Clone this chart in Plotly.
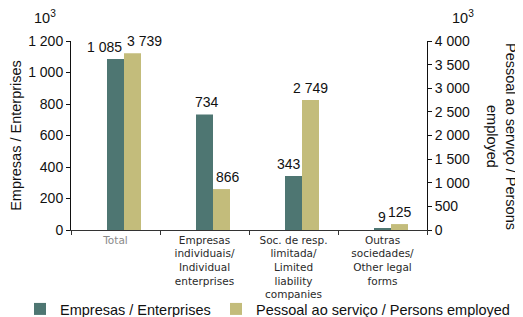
import plotly.graph_objects as go

categories = ["Total", "Empresas individuais", "Soc. de resp. limitada", "Outras sociedades"]
tick_labels = [
    "<span style='color:#8a8a8a'>Total</span>",
    "Empresas<br>individuais/<br>Individual<br>enterprises",
    "Soc. de resp.<br>limitada/<br>Limited<br>liability<br>companies",
    "Outras<br>sociedades/<br>Other legal<br>forms",
]
enterprises = [1085, 734, 343, 9]
persons = [3739, 866, 2749, 125]

TEAL = "#4E7672"
OLIVE = "#C3BC7B"
FONT = "Liberation Sans, Arial, sans-serif"

# style: label horizontal nudges (px)
ent_shift = [-11, 2, -5, -1]
per_shift = [12, 6, 0, 0]

def fmt(v):
    return f"{v:,}".replace(",", " ")

# page body has an 8px margin: figure is drawn at (8, 8) in the 523x317 window
OFF = 8
W, H = 523 - OFF, 317 - OFF
# plot area in window pixels: x 71..427, y 41..230
L, T = 71 - OFF, 41 - OFF
R, B = 523 - 427, 317 - 230
pw, ph = W - L - R, H - T - B

fig = go.Figure()
fig.add_trace(go.Bar(
    x=categories, y=enterprises, name="Empresas / Enterprises",
    marker=dict(color=TEAL, line=dict(width=0)),
    width=0.191, offset=-0.0955, yaxis="y", legend="legend",
))
fig.add_trace(go.Bar(
    x=categories, y=persons, name="Pessoal ao serviço / Persons employed",
    marker=dict(color=OLIVE, line=dict(width=0)),
    width=0.191, offset=0.0955, yaxis="y2", legend="legend2",
))

ann = []
for i, c in enumerate(categories):
    ann.append(dict(x=c, y=enterprises[i], xref="x", yref="y", text=fmt(enterprises[i]),
                    showarrow=False, yanchor="bottom", xshift=ent_shift[i], yshift=2,
                    font=dict(size=14, color="#111", family=FONT)))
    ann.append(dict(x=c, y=persons[i], xref="x", yref="y2", text=fmt(persons[i]),
                    showarrow=False, yanchor="bottom", xshift=per_shift[i] + 17, yshift=2,
                    font=dict(size=14, color="#111", family=FONT)))

def paper(wx, wy):
    return (wx - OFF - L) / pw, (H - B - (wy - OFF)) / ph

for (x, y, t, ang) in [(45, 17, "10<sup>3</sup>", 0), (463, 17, "10<sup>3</sup>", 0),
                       (502, 136, "Pessoal ao serviço / Persons<br>employed", 90)]:
    ax, ay = paper(x, y)
    ann.append(dict(x=ax, y=ay, xref="paper", yref="paper", text=t, textangle=ang,
                    xanchor="center", yanchor="middle",
                    showarrow=False, font=dict(size=14.5, color="#111", family=FONT)))

def cont(wx, wy):
    return (wx - OFF) / W, 1 - (wy - OFF) / H

l1x, l1y = cont(20, 309)
l2x, l2y = cont(216, 309)
leg_common = dict(orientation="h", xref="container", yref="container",
                  xanchor="left", yanchor="middle", itemwidth=30,
                  font=dict(size=14.5, color="#111", family=FONT),
                  bgcolor="rgba(0,0,0,0)")

fig.update_layout(
    width=W, height=H,
    margin=dict(l=L, r=R, t=T, b=B, pad=0, autoexpand=False),
    paper_bgcolor="white", plot_bgcolor="white",
    separators=", ",
    barmode="overlay",
    font=dict(family=FONT, size=14, color="#111"),
    showlegend=True,
    legend=dict(x=l1x, y=l1y, **leg_common),
    legend2=dict(x=l2x, y=l2y, **leg_common),
    xaxis=dict(
        type="category", tickvals=categories, ticktext=tick_labels,
        range=[-0.5, 3.5], showline=True, linecolor="#333", linewidth=1,
        ticks="outside", tickson="boundaries", ticklen=4, tickcolor="#333",
        tickfont=dict(size=10.5, color="#2a2a2a", family="DejaVu Sans"),
        showgrid=False, zeroline=False, automargin=False,
    ),
    yaxis=dict(
        range=[0, 1200], dtick=200, tickformat=",d", showline=True, linecolor="#111",
        linewidth=1, ticks="outside", ticklen=4, tickcolor="#111", showgrid=False,
        zeroline=False, automargin=False,
        title=dict(text="Empresas / Enterprises", font=dict(size=14.5, color="#111"), standoff=4),
        tickfont=dict(size=14, color="#111"),
    ),
    yaxis2=dict(
        range=[0, 4000], dtick=500, tickformat=",d", overlaying="y", side="right",
        showline=True, linecolor="#111", linewidth=1, ticks="outside", ticklen=4,
        tickcolor="#111", showgrid=False, zeroline=False, automargin=False,
        tickfont=dict(size=14, color="#111"),
    ),
    annotations=ann,
)

fig.write_html("out.html")
